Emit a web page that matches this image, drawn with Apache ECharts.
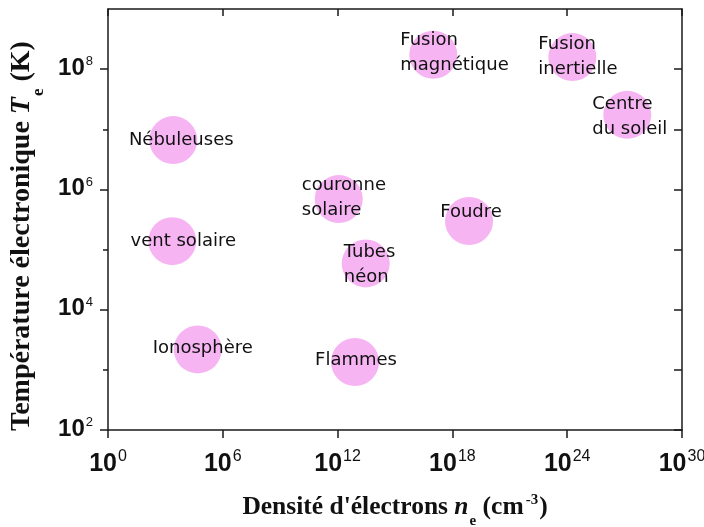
<!DOCTYPE html>
<html><head><meta charset="utf-8">
<script src="https://cdn.jsdelivr.net/npm/echarts@6/dist/echarts.min.js"></script>
<style>html,body{margin:0;padding:0;background:#fff}#c{width:704px;height:527px}</style>
</head><body><div id="c"></div>
<script>
// ---- data (values read as log10 exponents) ----
const plasmaNames = ['Nébuleuses', 'vent solaire', 'Ionosphère', 'couronne\nsolaire', 'Tubes\nnéon', 'Flammes', 'Fusion\nmagnétique', 'Fusion\ninertielle', 'Centre\ndu soleil', 'Foudre'];
const densityExp = [3.41, 3.36, 4.69, 12.06, 13.47, 12.91, 17.0, 24.27, 27.14, 18.87];     // log10(n_e / cm^-3)
const temperatureExp = [6.82, 5.14, 3.34, 5.84, 4.77, 3.13, 8.24, 8.20, 7.24, 5.475];      // log10(T_e / K)
const xTickExps = [0, 6, 12, 18, 24, 30];
const yTickExps = [2, 4, 6, 8];
const yMinorTickExps = [3, 5, 7];

// ---- label layout (style only) ----
const labelLayout = [
  {align: 'center', offset: [8, 0]},
  {align: 'center', offset: [11, 0]},
  {align: 'center', offset: [5, -1]},
  {align: 'left', offset: [-37, -1]},
  {align: 'left', offset: [-22, 1]},
  {align: 'center', offset: [1, -2]},
  {align: 'left', offset: [-33, -2]},
  {align: 'left', offset: [-34, 0]},
  {align: 'left', offset: [-35, 2]},
  {align: 'center', offset: [2, -9]}
];

const axisColor = '#1a1a1a';
const serif = '"Liberation Serif", "Times New Roman", serif';
const sans = 'Arial, Helvetica, sans-serif';

function titleRich(size, subPad) {
  return {
    t: {fontFamily: serif, fontWeight: 'bold', fontSize: size, lineHeight: size + 4, verticalAlign: 'top', color: '#111'},
    ti: {fontFamily: serif, fontWeight: 'bold', fontStyle: 'italic', fontSize: size, lineHeight: size + 4, verticalAlign: 'top', color: '#111'},
    sub: {fontFamily: serif, fontWeight: 'bold', fontSize: Math.round(size * 0.6), lineHeight: 16, verticalAlign: 'top', padding: [subPad, 0, 0, 1], color: '#111'},
    sup: {fontFamily: serif, fontWeight: 'bold', fontSize: Math.round(size * 0.6), lineHeight: 16, verticalAlign: 'top', padding: [-1, 1, 0, 2], color: '#111'}
  };
}

const chart = echarts.init(document.getElementById('c'), null, {renderer: 'canvas'});
const option = {
  animation: false,
  backgroundColor: '#fff',
  grid: {left: 108, right: 22, top: 9, bottom: 97, containLabel: false, outerBoundsMode: 'none'},
  xAxis: [{
    type: 'value', position: 'bottom', min: 0, max: 30, interval: 6,
    splitLine: {show: false},
    axisLine: {show: true, lineStyle: {color: axisColor, width: 1.5}},
    axisTick: {show: true, inside: false, length: 8, lineStyle: {color: axisColor, width: 1.5}, customValues: xTickExps},
    axisLabel: {
      margin: 22, customValues: xTickExps,
      formatter: v => '{b|10}{s|' + v + '}',
      rich: {
        b: {fontFamily: sans, fontWeight: 'bold', fontSize: 25, lineHeight: 26, verticalAlign: 'top', color: '#111'},
        s: {fontFamily: sans, fontSize: 16, lineHeight: 16, verticalAlign: 'top', padding: [-3, 0, 0, 1], color: '#111'}
      }
    },
    name: '{t|Densité d\'électrons }{ti|n}{sub|e}{t| (cm}{sup|-3}{t|)}',
    nameLocation: 'middle', nameGap: 64,
    nameTextStyle: {rich: titleRich(25.5, 20)}
  }, {
    type: 'value', position: 'top', min: 0, max: 30, interval: 6,
    splitLine: {show: false},
    axisLine: {show: true, lineStyle: {color: axisColor, width: 1.5}},
    axisTick: {show: true, inside: true, length: 7, lineStyle: {color: axisColor, width: 1.5}, customValues: xTickExps},
    axisLabel: {show: false}
  }],
  yAxis: [{
    type: 'value', position: 'left', min: 2, max: 9, interval: 1,
    splitLine: {show: false},
    axisLine: {show: true, lineStyle: {color: axisColor, width: 1.5}},
    axisTick: {show: true, inside: false, length: 8, lineStyle: {color: axisColor, width: 1.5}, customValues: yTickExps},
    axisLabel: {
      margin: 15, customValues: yTickExps,
      formatter: v => '{b|10}{s|' + v + '}',
      rich: {
        b: {fontFamily: sans, fontWeight: 'bold', fontSize: 24, lineHeight: 26, verticalAlign: 'top', color: '#111'},
        s: {fontFamily: sans, fontSize: 13, lineHeight: 13, verticalAlign: 'top', padding: [-1, 0, 0, 1], color: '#111'}
      }
    },
    name: '{t|Température électronique }{ti|T}{sub|e}{t| (K)}',
    nameLocation: 'middle', nameRotate: 90, nameGap: 66,
    nameTextStyle: {rich: titleRich(28, 22), padding: [0, 33, 0, 0]}
  }, {
    type: 'value', position: 'left', min: 2, max: 9, interval: 1,
    splitLine: {show: false},
    axisLine: {show: false},
    axisTick: {show: true, inside: false, length: 5, lineStyle: {color: axisColor, width: 1.5}, customValues: yMinorTickExps},
    axisLabel: {show: false}
  }, {
    type: 'value', position: 'right', min: 2, max: 9, interval: 1,
    splitLine: {show: false},
    axisLine: {show: true, lineStyle: {color: axisColor, width: 1.5}},
    axisTick: {show: true, inside: true, length: 8, lineStyle: {color: axisColor, width: 1.5}, customValues: yTickExps.concat(yMinorTickExps)},
    axisLabel: {show: false}
  }],
  series: [{
    type: 'scatter', xAxisIndex: 0, yAxisIndex: 0,
    symbol: 'circle', symbolSize: 48,
    itemStyle: {color: '#f7b4f3', opacity: 1},
    label: {
      show: true, position: 'inside', formatter: '{b}',
      fontFamily: '"DejaVu Sans", sans-serif', fontSize: 18, lineHeight: 25, color: '#111'
    },
    emphasis: {disabled: true},
    data: plasmaNames.map((n, i) => ({
      name: n,
      value: [densityExp[i], temperatureExp[i]],
      label: {align: labelLayout[i].align, offset: labelLayout[i].offset}
    }))
  }]
};
chart.setOption(option);
</script>
</body></html>
